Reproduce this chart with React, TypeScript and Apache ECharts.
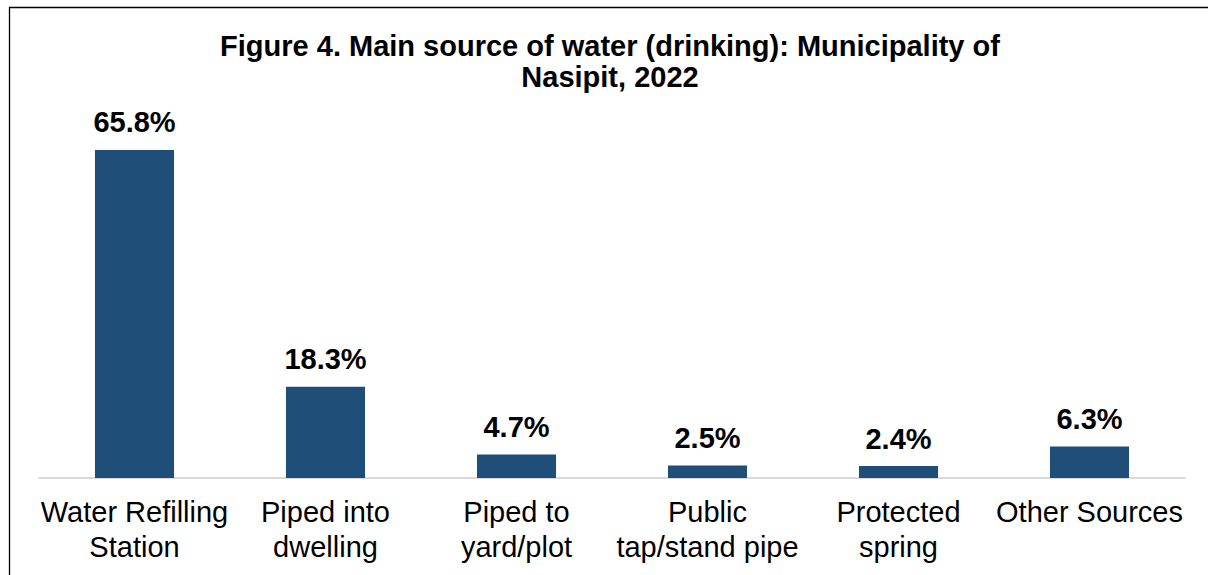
import React, { useEffect, useRef } from "react";
import * as echarts from "echarts";

const categories = [
  "Water Refilling\nStation",
  "Piped into\ndwelling",
  "Piped to\nyard/plot",
  "Public\ntap/stand pipe",
  "Protected\nspring",
  "Other Sources",
];
const values = [65.8, 18.3, 4.7, 2.5, 2.4, 6.3];
const titleLines = ["Figure 4. Main source of water (drinking): Municipality of", "Nasipit, 2022"];

const FONT = "'Liberation Sans', Arial, Helvetica, sans-serif";

export default function App() {
  const ref = useRef<HTMLDivElement>(null);
  useEffect(() => {
    if (!ref.current) return;
    const chart = echarts.init(ref.current, null, { renderer: "svg" });
    chart.setOption({
      animation: false,
      backgroundColor: "#ffffff",
      title: {
        text: titleLines.join("\n"),
        left: 605,
        top: 25,
        textAlign: "center",
        textStyle: {
          fontFamily: FONT,
          fontSize: 29,
          fontWeight: "bold",
          color: "#000000",
          lineHeight: 31,
        },
      },
      graphic: [
        {
          type: "rect",
          shape: { x: 9.5, y: 7.5, width: 1400, height: 800 },
          style: { fill: "none", stroke: "#000000", lineWidth: 1.3 },
          silent: true,
        },
      ],
      grid: { left: 39, right: 23, top: 129, bottom: 97 },
      xAxis: {
        type: "category",
        data: categories,
        axisLine: { show: true, lineStyle: { color: "#d9d9d9", width: 2 } },
        axisTick: { show: false },
        axisLabel: {
          interval: 0,
          margin: 16,
          fontFamily: FONT,
          fontSize: 29,
          lineHeight: 35,
          color: "#000000",
        },
      },
      yAxis: {
        type: "value",
        min: 0,
        max: 70,
        show: false,
        splitLine: { show: false },
      },
      series: [
        {
          type: "bar",
          data: values,
          barWidth: "41.4%",
          itemStyle: { color: "#1f4e79" },
          label: {
            show: true,
            position: "top",
            distance: 13,
            formatter: (p: any) => p.value.toFixed(1) + "%",
            fontFamily: FONT,
            fontSize: 29,
            fontWeight: "bold",
            color: "#000000",
          },
        },
      ],
    });
    return () => chart.dispose();
  }, []);
  return (
    <div
      ref={ref}
      style={{ position: "fixed", left: 0, top: 0, width: 1208, height: 575 }}
    />
  );
}
